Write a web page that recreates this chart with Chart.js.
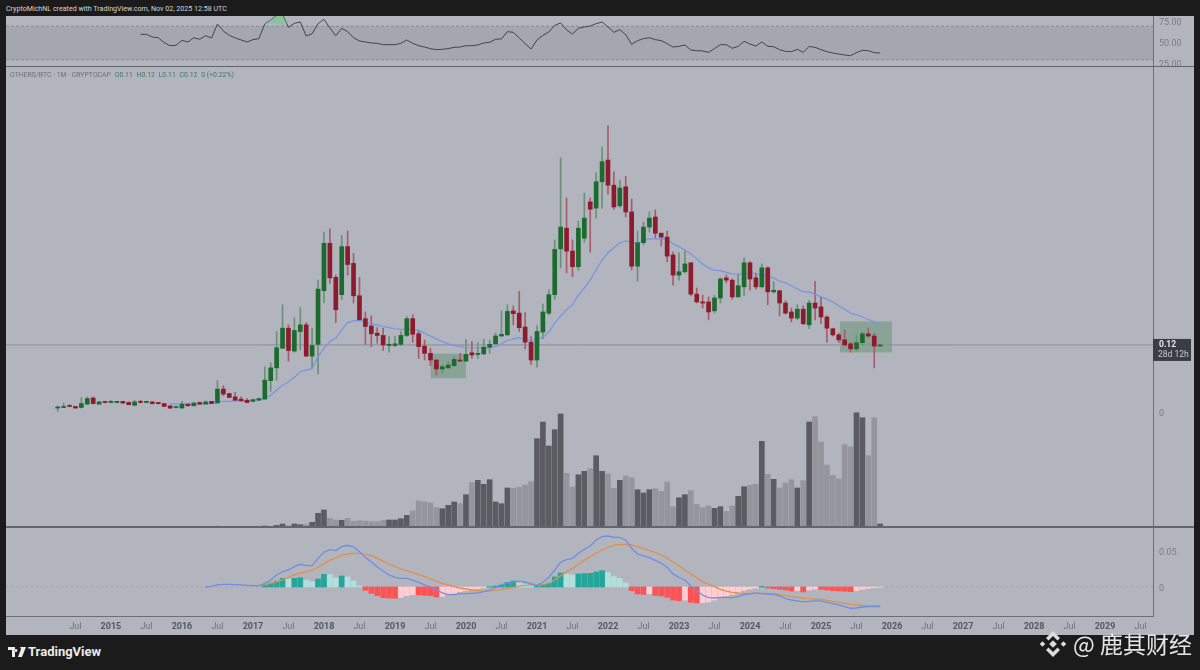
<!DOCTYPE html>
<html>
<head>
<meta charset="utf-8">
<title>OTHERS/BTC</title>
<script src="https://cdn.jsdelivr.net/npm/chart.js@4"></script>
<style>
  html, body { margin: 0; background: #1b1b1b; width: 1200px; height: 670px; overflow: hidden; font-family: Roboto, sans-serif; }
  canvas { position: absolute; left: 6px; background: #b2b5be; }
  .label { position: absolute; white-space: nowrap; }
  #credit { left: 6px; top: 3px; font-size: 7.1px; line-height: 11px; color: #d6d6d6; }
  #legend { left: 10px; top: 70px; font-size: 6.9px; line-height: 11px; color: #6c6f79; }
  #legend b { font-weight: 400; color: #3f7a58; margin-left: 2px; }
  #brand { left: 28px; top: 644px; font-size: 13px; font-weight: 700; color: #ececec; }
  #mark { left: 1073px; top: 628px; font: 23px/30px "Noto Sans CJK SC"; color: #e6e6e6; }
  svg { position: absolute; }
  .divider { position: absolute; left: 6px; width: 1188px; height: 1px; background: #63656e; }
</style>
</head>
<body>
<canvas id="rsiPane" width="1188" height="50" style="top:16px"></canvas>
<canvas id="pricePane" width="1188" height="461" style="top:66px"></canvas>
<canvas id="macdPane" width="1188" height="108" style="top:527px"></canvas>
<div class="divider" style="top:66px"></div>
<div class="divider" style="top:526px;height:2px"></div>
<div class="label" id="credit">CryptoMichNL created with TradingView.com, Nov 02, 2025 12:58 UTC</div>
<div class="label" id="legend">OTHERS/BTC · 1M · CRYPTOCAP <b>O0.11</b> <b>H0.12</b> <b>L0.11</b> <b>C0.12</b> <b>0 (+0.22%)</b></div>
<svg style="left:8px;top:646px" width="18" height="12" viewBox="0 0 18 12"><path fill="#ececec" d="M0 1h7v10H4V4H0zM12 1h6l-4 10h-4l3-8zM8 3a1.5 1.5 0 1 0 0.01 0z"/></svg>
<div class="label" id="brand">TradingView</div>
<svg style="left:1039px;top:630px" width="28" height="28" viewBox="0 0 28 28"><g fill="#dcdcdc"><path d="M14 1l7 7-2.500 2.500L14 6l-4.500 4.500L7 8z"/><path d="M14 27l-7-7 2.500-2.500L14 22l4.500-4.500L21 20z"/><path d="M3.500 11.200L6.300 14l-2.800 2.800L.7 14z"/><path d="M24.500 11.200L27.300 14l-2.800 2.800L21.700 14z"/><path d="M14 10.200l3.800 3.800-3.800 3.800L10.200 14z"/></g></svg>
<div class="label" id="mark">@ 鹿其财经</div>

<script>
// monthly candles, first one is Apr 2014, last one Nov 2025
const candleOpen = [
  .007,.008,.011,.010,.008,.014,.025,.014,.019,.017,
  .017,.019,.017,.012,.019,.017,.018,.017,.015,.011,
  .008,.007,.014,.011,.017,.014,.019,.016,.041,.033,
  .027,.023,.021,.019,.021,.023,.056,.079,.114,.150,
  .109,.144,.156,.100,.121,.217,.302,.241,.210,.296,
  .266,.208,.167,.154,.141,.137,.119,.119,.121,.137,
  .167,.140,.118,.105,.093,.077,.079,.083,.093,.091,
  .106,.103,.104,.116,.122,.136,.138,.181,.177,.152,
  .125,.093,.143,.177,.210,.292,.329,.288,.260,.311,
  .376,.365,.412,.451,.406,.369,.403,.358,.261,.303,
  .331,.349,.320,.313,.281,.245,.251,.267,.211,.197,
  .197,.181,.204,.240,.236,.206,.224,.267,.240,.224,
  .258,.215,.217,.195,.179,.168,.184,.156,.195,.188,
  .170,.149,.138,.129,.122,.113,.124,.140,.136,.118];
const candleHigh = [
  .011,.016,.013,.010,.026,.027,.027,.019,.019,.021,
  .019,.019,.018,.021,.021,.019,.019,.017,.015,.011,
  .009,.019,.015,.017,.018,.020,.019,.056,.047,.033,
  .035,.027,.024,.023,.025,.081,.088,.144,.192,.156,
  .169,.187,.160,.150,.236,.322,.328,.245,.316,.324,
  .284,.241,.179,.172,.151,.150,.135,.136,.144,.171,
  .174,.146,.129,.114,.093,.084,.090,.100,.105,.130,
  .126,.124,.130,.128,.141,.181,.192,.190,.216,.178,
  .135,.154,.193,.219,.308,.455,.383,.308,.342,.392,
  .383,.428,.474,.512,.430,.415,.422,.381,.324,.340,
  .358,.362,.320,.324,.286,.285,.288,.267,.222,.209,
  .206,.209,.240,.245,.238,.247,.276,.269,.249,.265,
  .260,.233,.218,.199,.186,.192,.190,.200,.234,.206,
  .172,.150,.141,.147,.124,.138,.143,.150,.141,.121];
const candleLow = [
  .001,.008,.009,.007,.007,.014,.014,.014,.016,.016,
  .016,.015,.013,.012,.016,.016,.014,.014,.010,.006,
  .007,.007,.011,.011,.013,.014,.015,.016,.029,.026,
  .021,.019,.017,.018,.021,.023,.037,.057,.114,.091,
  .107,.111,.099,.078,.068,.195,.230,.160,.201,.245,
  .195,.163,.121,.117,.123,.110,.107,.117,.119,.135,
  .125,.096,.093,.083,.066,.070,.078,.081,.091,.091,
  .096,.096,.103,.105,.121,.135,.137,.156,.144,.113,
  .085,.080,.131,.174,.202,.258,.249,.242,.254,.304,
  .286,.347,.365,.390,.363,.365,.349,.254,.234,.299,
  .322,.311,.297,.269,.227,.236,.249,.208,.195,.186,
  .165,.177,.195,.231,.202,.206,.208,.218,.220,.222,
  .192,.213,.172,.175,.161,.165,.156,.149,.165,.158,
  .125,.136,.124,.118,.107,.109,.120,.134,.079,.117];
const candleClose = [
  .009,.010,.010,.007,.015,.024,.015,.018,.017,.019,
  .019,.016,.013,.018,.017,.019,.015,.015,.010,.007,
  .009,.014,.011,.016,.014,.018,.015,.041,.032,.026,
  .021,.020,.017,.022,.024,.057,.079,.115,.150,.110,
  .146,.156,.100,.119,.220,.302,.240,.183,.296,.264,
  .208,.165,.153,.140,.137,.120,.121,.122,.137,.167,
  .139,.117,.105,.093,.077,.081,.084,.094,.091,.103,
  .102,.105,.116,.121,.136,.139,.180,.176,.151,.125,
  .093,.144,.179,.210,.291,.331,.288,.260,.329,.347,
  .363,.412,.448,.406,.367,.401,.358,.261,.303,.331,
  .347,.320,.313,.279,.245,.251,.265,.211,.197,.195,
  .179,.204,.238,.236,.206,.226,.267,.238,.224,.258,
  .215,.218,.195,.177,.168,.184,.158,.195,.186,.170,
  .150,.138,.129,.120,.113,.124,.140,.136,.118,.120];

// moving average, from candle 19
const maStart = 19;
const movingAvg = [
  .015,.014,.014,.014,.014,.015,.015,.016,.018,.019,
  .019,.020,.020,.020,.021,.022,.024,.030,.039,.048,
  .054,.062,.072,.075,.078,.099,.114,.126,.132,.147,
  .160,.163,.164,.161,.158,.156,.153,.151,.149,.148,
  .148,.148,.146,.141,.136,.131,.126,.122,.119,.117,
  .115,.115,.115,.114,.115,.117,.122,.128,.131,.133,
  .130,.128,.129,.134,.143,.159,.172,.183,.192,.209,
  .222,.236,.254,.272,.285,.294,.303,.306,.303,.302,
  .306,.310,.310,.310,.309,.301,.296,.290,.283,.274,
  .265,.258,.254,.253,.250,.247,.247,.247,.249,.247,
  .245,.243,.240,.234,.231,.226,.220,.215,.215,.211,
  .206,.202,.197,.190,.184,.177,.174,.170,.166,.161,.156];

// relative volume, tallest bar about 115
const volume = [
  .3,.2,.2,.2,.4,.4,.3,.2,.2,.2,
  .2,.2,.2,.3,.2,.2,.2,.2,.3,.3,
  .2,.4,.2,.3,.2,.3,.2,.8,.5,.4,
  .4,.3,.3,.3,.3,1,.7,1.7,3,1,
  3,2.3,2.3,4.7,13.7,17,8.7,7,6.7,8.7,
  5.7,6.3,6,5.3,5.3,6.7,7,7,8.3,11.7,
  16,26,25,24,19.3,18.3,21.7,25,23.3,32.3,
  44.3,46.7,42.7,47.3,25,23.3,39,38.7,39.7,42,
  45.3,88.3,105,81,97.3,113,53.7,40,52.3,55.7,
  58.3,71.3,55.7,53.3,38.7,46.7,51,49.3,37.3,34,
  37.3,38.3,35.7,45,20.3,29.3,32.3,36.3,22.7,19.3,
  21,18.7,20.3,15.7,21,30.7,40.3,41.7,42.7,85.7,
  52.7,47.7,39,44,47.3,39,46.3,105,110.3,85,
  62,51.7,48.3,82.3,80,114.3,109.3,71.3,109.3,3];

// RSI, from candle 14
const rsiStart = 14;
const rsiValues = [
  60.3,60.3,57.1,56.3,50.4,46.8,47.2,53.2,51.2,56.3,
  54.4,58.7,56.0,72.6,64.3,59.1,56.0,53.6,51.2,54.0,
  55.2,72.6,77.4,83.0,84.0,68.7,73.4,75.0,58.3,61.1,
  73.0,78.2,67.9,58.7,67.5,63.5,56.3,52.4,51.2,50.0,
  49.6,48.0,48.0,48.0,49.6,53.6,49.6,46.8,45.2,43.3,
  42.1,42.5,43.3,44.8,45.2,46.8,46.8,47.6,50.0,50.8,
  54.4,54.8,63.5,62.7,56.0,49.2,42.9,53.6,59.1,63.1,
  71.0,73.8,65.5,60.7,67.5,69.0,70.2,73.0,75.0,69.0,
  62.7,65.9,59.9,48.4,52.8,55.2,56.3,54.0,52.8,49.2,
  45.2,46.0,47.6,41.7,40.9,40.5,38.9,43.3,48.0,48.0,
  43.7,46.0,52.0,48.8,46.4,51.2,46.0,45.6,42.1,40.1,
  39.7,42.5,38.9,46.0,44.8,42.1,39.7,38.1,36.9,35.7,
  34.9,38.5,41.3,40.9,38.5,38.1];
const rsiShadeLevel = 72.6;

// MACD pane
const macdStart = 25;
const macdLine = [
  0,.0009,.0028,.0037,.0037,.0032,.0028,.0023,.0019,.0019,
  .0051,.0097,.0167,.0213,.0236,.0282,.0315,.0296,.0296,.0398,
  .0482,.0519,.0505,.0560,.0579,.0556,.0491,.0412,.0347,.0282,
  .0222,.0167,.0134,.0120,.0120,.0093,.0065,.0028,0,-.0037,
  -.0083,-.0106,-.0106,-.0097,-.0093,-.0088,-.0083,-.0065,-.0042,-.0009,
  .0028,.0056,.0074,.0079,.0069,.0046,.0023,.0065,.0134,.0236,
  .0343,.0380,.0398,.0468,.0523,.0569,.0653,.0699,.0708,.0690,
  .0690,.0653,.0537,.0458,.0431,.0407,.0370,.0329,.0273,.0181,
  .0134,.0097,.0014,-.0051,-.0111,-.0148,-.0153,-.0144,-.0144,-.0148,
  -.0130,-.0106,-.0097,-.0083,-.0093,-.0102,-.0102,-.0125,-.0157,-.0181,
  -.0194,-.0208,-.0199,-.0194,-.0194,-.0213,-.0232,-.0250,-.0273,-.0296,
  -.0292,-.0278,-.0273,-.0273,-.0273];
const signalStart = 33;
const signalLine = [
  .0019,.0019,.0028,.0051,.0074,.0097,.0130,.0167,.0194,.0213,
  .0236,.0273,.0324,.0370,.0403,.0440,.0458,.0468,.0468,.0454,
  .0435,.0398,.0361,.0319,.0282,.0250,.0227,.0199,.0171,.0144,
  .0111,.0079,.0051,.0028,.0005,-.0014,-.0028,-.0042,-.0051,-.0060,
  -.0056,-.0046,-.0032,-.0023,-.0005,.0014,.0023,.0028,.0023,.0032,
  .0051,.0097,.0157,.0213,.0259,.0315,.0370,.0421,.0468,.0514,
  .0551,.0579,.0593,.0593,.0583,.0560,.0532,.0509,.0477,.0444,
  .0398,.0347,.0296,.0236,.0181,.0130,.0074,.0037,.0005,-.0032,
  -.0056,-.0074,-.0083,-.0088,-.0088,-.0088,-.0088,-.0088,-.0093,-.0106,
  -.0120,-.0134,-.0144,-.0153,-.0162,-.0167,-.0171,-.0185,-.0199,-.0213,
  -.0227,-.0241,-.0250,-.0255,-.0259,-.0259,-.0259];
const histStart = 35;
const histogram = [
  .0037,.0056,.0083,.0120,.0111,.0120,.0130,.0093,.0074,.0111,
  .0176,.0171,.0130,.0153,.0139,.0083,.0014,-.0046,-.0088,-.0120,
  -.0148,-.0153,-.0157,-.0144,-.0120,-.0106,-.0111,-.0116,-.0120,-.0139,
  -.0130,-.0102,-.0088,-.0065,-.0051,-.0032,-.0023,-.0009,.0005,.0014,
  .0028,.0065,.0083,.0074,.0037,.0009,.0014,.0037,.0056,.0139,
  .0194,.0176,.0167,.0181,.0185,.0190,.0208,.0227,.0199,.0144,
  .0120,.0056,-.0051,-.0097,-.0102,-.0093,-.0116,-.0125,-.0144,-.0181,
  -.0190,-.0181,-.0213,-.0222,-.0218,-.0208,-.0181,-.0148,-.0125,-.0102,
  -.0079,-.0046,-.0028,-.0014,.0009,-.0014,-.0023,-.0032,-.0042,-.0056,
  -.0051,-.0069,-.0042,-.0028,-.0032,-.0042,-.0051,-.0056,-.0060,-.0065,
  -.0051,-.0032,-.0019,-.0009,-.0005];

// time axis: candle index of the first label, then one label every 6 months
const firstTickIndex = 3;
const timeLabels = ['Jul','2015','Jul','2016','Jul','2017','Jul','2018','Jul','2019','Jul','2020','Jul','2021',
  'Jul','2022','Jul','2023','Jul','2024','Jul','2025','Jul','2026','Jul','2027','Jul','2028','Jul','2029','Jul'];

// last price and countdown shown on the price scale
const lastPrice = 0.12;
const lastPriceLabels = ['0.12', '28d 12h'];
const priceTicks = [0];
const rsiTicks = [75, 50, 25];
const rsiBand = [30, 70];
const macdTicks = [0.05, 0];
// [first candle, last candle, top price, bottom price]
const accumBoxes = [[63.04, 69.0, .1044, .0603], [132.2, 141.0, .1621, .1065]];

const GREEN = '#1b6a2e', RED = '#8e1a2d';
const GREEN_WICK = '#6c9077', RED_WICK = '#a65d6b';
const AXIS_LINE = '#6d6f78', AXIS_TEXT = '#7a7d87';
const isUp = i => candleClose[i] >= candleOpen[i];

// all panes share this horizontal range so the candles line up
const xRange = { min: -8.737, max: 185.11 };
const AXIS_WIDTH = 41;

const series = (values, start) => values.map((y, i) => ({ x: i + start, y }));
const isYearTick = c => !!c.tick && /\d/.test(c.tick.label);

function xScale(showLabels) {
  return {
    type: 'linear', offset: false, min: xRange.min, max: xRange.max,
    display: showLabels,
    grid: { display: false, drawTicks: false, offset: false },
    border: { display: true, color: AXIS_LINE },
    afterBuildTicks: s => { s.ticks = timeLabels.map((_, n) => ({ value: firstTickIndex + n * 6 })); },
    afterFit: s => {
      s.paddingLeft = s.paddingRight = 0;
      if (showLabels) s.height = 19;
    },
    ticks: {
      autoSkip: false, maxRotation: 0, padding: 5,
      callback: v => timeLabels[(v - firstTickIndex) / 6],
      color: c => isYearTick(c) ? '#55575f' : '#6f727c',
      font: c => ({ family: 'Roboto', size: 9, weight: isYearTick(c) ? 'bold' : 'normal' })
    }
  };
}

function rightAxis(min, max, tickValues, format, labelOffset = 2) {
  return {
    position: 'right', min, max,
    grid: { display: false, drawTicks: false },
    border: { display: true, color: AXIS_LINE },
    afterFit: s => {
      s.width = AXIS_WIDTH;
      s.paddingTop = s.paddingBottom = 0; // panes fill their canvas top to bottom
    },
    afterBuildTicks: s => { s.ticks = tickValues.map(value => ({ value })); },
    ticks: { color: AXIS_TEXT, padding: 6, labelOffset, font: { family: 'Roboto', size: 9 }, callback: format }
  };
}

function hLine(chart, scaleId, value, color, dash) {
  const { ctx, chartArea } = chart;
  const y = chart.scales[scaleId].getPixelForValue(value);
  ctx.save();
  ctx.strokeStyle = color;
  ctx.setLineDash(dash || []);
  ctx.beginPath();
  ctx.moveTo(chartArea.left, y);
  ctx.lineTo(chartArea.right, y);
  ctx.stroke();
  ctx.restore();
}

const rsiGuides = {
  id: 'rsiGuides',
  beforeDatasetsDraw(chart) {
    const { ctx, chartArea, scales } = chart;
    const top = scales.y.getPixelForValue(rsiBand[1]);
    const bottom = scales.y.getPixelForValue(rsiBand[0]);
    ctx.fillStyle = '#a5a7b0';
    ctx.fillRect(chartArea.left, top, chartArea.width, bottom - top);
    hLine(chart, 'y', rsiBand[1], '#888a93', [3, 2]);
    hLine(chart, 'y', rsiBand[0], '#888a93', [3, 2]);
  }
};

const priceExtras = {
  id: 'priceExtras',
  beforeDatasetsDraw(chart) {
    const { ctx, scales } = chart;
    ctx.fillStyle = 'rgba(74, 134, 88, 0.38)';
    accumBoxes.forEach(([x1, x2, top, bottom]) => {
      const left = scales.x.getPixelForValue(x1);
      const y = scales.y.getPixelForValue(top);
      ctx.fillRect(left, y, scales.x.getPixelForValue(x2) - left, scales.y.getPixelForValue(bottom) - y);
    });
    hLine(chart, 'y', lastPrice, '#8d8f98');
  },
  afterDraw(chart) {
    const { ctx, chartArea, scales } = chart;
    const y = scales.y.getPixelForValue(lastPrice);
    ctx.save();
    ctx.fillStyle = '#3b3d46';
    ctx.fillRect(chartArea.right, y - 6, 38, 22);
    ctx.textBaseline = 'middle';
    ctx.fillStyle = '#e8e8ea';
    ctx.font = 'bold 8.5px Roboto';
    ctx.fillText(lastPriceLabels[0], chartArea.right + 6, y - 0.5);
    ctx.font = '8.5px Roboto';
    ctx.fillStyle = '#c8c9ce';
    ctx.fillText(lastPriceLabels[1], chartArea.right + 5, y + 10);
    ctx.restore();
  }
};

const macdGuides = {
  id: 'macdGuides',
  beforeDatasetsDraw(chart) { hLine(chart, 'y', 0, '#a0a2aa', [2, 3]); }
};

const baseOptions = {
  responsive: false,
  animation: false,
  layout: { padding: 0 },
  plugins: { legend: { display: false }, tooltip: { enabled: false } }
};

new Chart(document.getElementById('rsiPane'), {
  type: 'line',
  data: {
    datasets: [{
      // only the 2017 peak carries the green shade
      data: series(rsiValues, rsiStart).filter(p => p.x >= 35 && p.x <= 39),
      borderWidth: 0, pointRadius: 0,
      fill: { value: rsiShadeLevel, above: 'rgba(115, 205, 135, 0.6)', below: 'transparent' }
    }, {
      data: series(rsiValues, rsiStart),
      borderColor: '#43444a', borderWidth: 1, pointRadius: 0, tension: 0
    }]
  },
  options: {
    ...baseOptions,
    scales: {
      x: xScale(false),
      // the lowest label sits right on the pane edge, keep it clear of the next canvas
      y: rightAxis(22.62, 82.14, rsiTicks, v => v.toFixed(2), 0.5)
    }
  },
  plugins: [rsiGuides]
});

const indexes = candleOpen.map((_, i) => i);

new Chart(document.getElementById('pricePane'), {
  type: 'bar',
  data: {
    datasets: [{
      type: 'line',
      data: series(movingAvg, maStart),
      borderColor: '#7594e6', borderWidth: 1.2, pointRadius: 0, order: 2
    }, {
      data: indexes.map(i => ({ x: i, y: [candleLow[i], candleHigh[i]] })),
      backgroundColor: indexes.map(i => isUp(i) ? GREEN_WICK : RED_WICK),
      barThickness: 1, grouped: false, order: 3
    }, {
      data: indexes.map(i => ({ x: i, y: [candleOpen[i], candleClose[i]] })),
      backgroundColor: indexes.map(i => isUp(i) ? GREEN : RED),
      barThickness: 4, minBarLength: 1, grouped: false, order: 1
    }, {
      yAxisID: 'yVolume',
      data: series(volume, 0),
      backgroundColor: indexes.map(i => isUp(i) ? '#5b5c62' : '#94959d'),
      barThickness: 5, grouped: false, order: 4
    }]
  },
  options: {
    ...baseOptions,
    scales: {
      x: xScale(false),
      y: rightAxis(-0.2059, 0.6193, priceTicks, v => String(v)),
      yVolume: { display: false, min: 0, max: 461 }
    }
  },
  plugins: [priceExtras]
});

const histColor = histogram.map((h, i) => {
  const prev = i ? histogram[i - 1] : 0;
  if (h >= 0) return h > prev ? '#26a69a' : '#b2dfdb';
  return h < prev ? '#ff5252' : '#ffcdd2';
});

new Chart(document.getElementById('macdPane'), {
  type: 'bar',
  data: {
    datasets: [{
      type: 'line', data: series(signalLine, signalStart),
      borderColor: '#e08f4f', borderWidth: 1.3, pointRadius: 0, order: 2
    }, {
      type: 'line', data: series(macdLine, macdStart),
      borderColor: '#6f8ee0', borderWidth: 1.3, pointRadius: 0, order: 1
    }, {
      data: series(histogram, histStart),
      backgroundColor: histColor,
      barThickness: 5, grouped: false, order: 3
    }]
  },
  options: {
    ...baseOptions,
    scales: {
      x: xScale(true),
      y: rightAxis(-0.0403, 0.0833, macdTicks, v => String(v))
    }
  },
  plugins: [macdGuides]
});
</script>
</body>
</html>
